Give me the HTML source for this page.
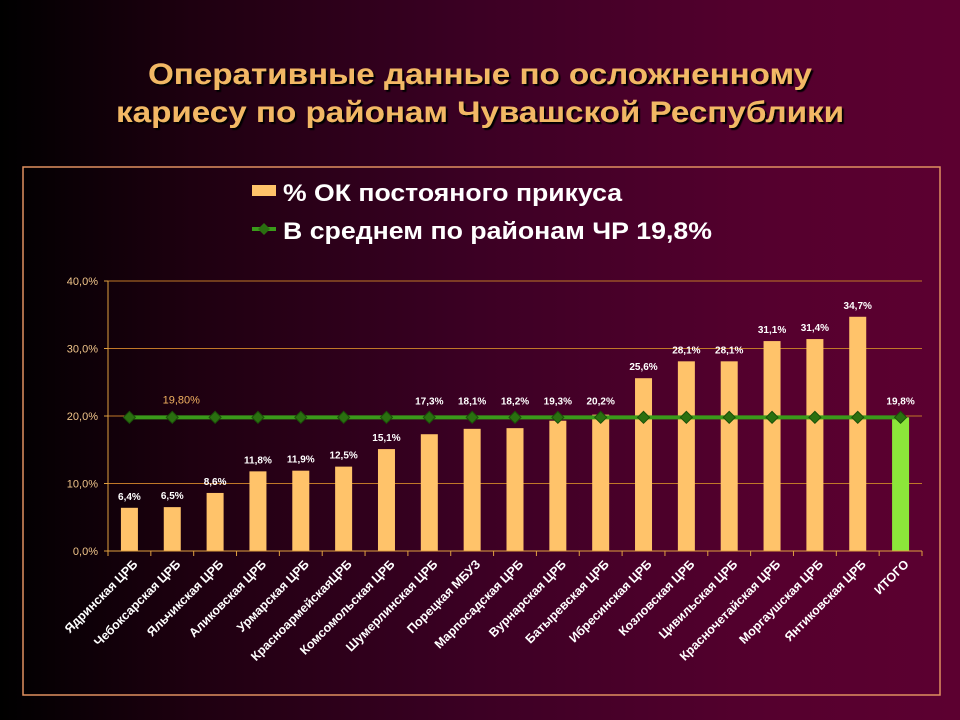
<!DOCTYPE html>
<html><head><meta charset="utf-8"><style>
body{margin:0;width:960px;height:720px;overflow:hidden;background:linear-gradient(90deg,#000 0%,#1e0010 20%,#3c0024 50%,#55002e 80%,#5c0030 100%);font-family:"Liberation Sans",sans-serif}
</style></head><body>
<svg width="960" height="720" style="position:absolute;left:0;top:0">
<defs><filter id="sh"><feDropShadow dx="2" dy="2" stdDeviation="0.5" flood-color="#000"/></filter></defs>
<g font-weight="bold" font-size="30" fill="#f2b865" filter="url(#sh)">
<text x="148" y="84" textLength="664" lengthAdjust="spacingAndGlyphs">Оперативные данные по осложненному</text>
<text x="116" y="122" textLength="728" lengthAdjust="spacingAndGlyphs">кариесу по районам Чувашской Республики</text></g>
<rect x="23" y="167" width="917" height="528" fill="none" stroke="#e09060" stroke-width="1.5"/>
<g font-weight="bold" font-size="24" fill="#fff">
<rect x="252" y="185" width="24" height="11" fill="#ffc36a"/>
<text x="283" y="201" textLength="339" lengthAdjust="spacingAndGlyphs">% ОК постояного прикуса</text>
<line x1="252" y1="229" x2="276" y2="229" stroke="#3a9a1a" stroke-width="4"/>
<path d="M264 223 L270 229 L264 235 L258 229Z" fill="#2a7010"/>
<text x="283" y="239" textLength="429" lengthAdjust="spacingAndGlyphs">В среднем по районам ЧР 19,8%</text></g>
<g id="plot"></g>
</svg>
<script>
const categories=["Ядринская ЦРБ","Чебоксарская  ЦРБ","Яльчикская ЦРБ","Аликовская ЦРБ","Урмарская ЦРБ","КрасноармейскаяЦРБ","Комсомольская ЦРБ","Шумерлинская ЦРБ","Порецкая МБУЗ","Марпосадская ЦРБ","Вурнарская ЦРБ","Батыревская ЦРБ","Ибресинская ЦРБ","Козловская ЦРБ","Цивильская ЦРБ","Красночетайская ЦРБ","Моргаушская ЦРБ","Янтиковская ЦРБ","ИТОГО"];
const values=[6.4,6.5,8.6,11.8,11.9,12.5,15.1,17.3,18.1,18.2,19.3,20.2,25.6,28.1,28.1,31.1,31.4,34.7,19.8];
const average=[19.8,19.8,19.8,19.8,19.8,19.8,19.8,19.8,19.8,19.8,19.8,19.8,19.8,19.8,19.8,19.8,19.8,19.8,19.8];
const yTicks=[0,10,20,30,40];
const NS="http://www.w3.org/2000/svg",g=document.getElementById("plot");
const X0=108,X1=922,Y0=551,Y1=281,YMAX=40;
const bw=(X1-X0)/categories.length;
const xc=i=>X0+bw*(i+0.5), y=v=>Y0-(v/YMAX)*(Y0-Y1);
function mk(t,a,txt){const e=document.createElementNS(NS,t);for(const k in a)e.setAttribute(k,a[k]);if(txt!=null)e.textContent=txt;g.appendChild(e);return e;}
const fmt=v=>v.toFixed(1).replace(".",",");
yTicks.forEach(t=>{
 const l=mk("line",{x1:X0,x2:X1,y1:y(t),y2:y(t),stroke:"#c07828","stroke-width":1});
 
 
 const tx=mk("text",{x:X0-10,y:y(t)+4,"text-anchor":"end","font-size":11,fill:"#f0c48a"},fmt(t)+"%");
 
 
 mk("line",{x1:X0-4,x2:X0,y1:y(t),y2:y(t),stroke:"#e0a040"});
});
const ax=mk("line",{x1:X0,x2:X0,y1:Y1,y2:Y0,stroke:"#e0a040"});


categories.forEach((c,i)=>{
 const last=i===categories.length-1;
 const r=mk("rect",{x:xc(i)-8.5,y:y(values[i]),width:17,height:Y0-y(values[i]),fill:last?"#8ce63a":"#ffc36a"});
 
 
 let ly=y(values[i])-8;
 if(Math.abs(ly-y(average[i]))<14) ly=Math.min(ly,y(average[i])-13);
 const vl=mk("text",{x:xc(i),y:ly,"text-anchor":"middle","font-size":10,"font-weight":"bold",fill:"#fff"},fmt(values[i])+"%");
 
 
 mk("line",{x1:X0+bw*i,x2:X0+bw*i,y1:Y0,y2:Y0+5,stroke:"#e0a040"});
 const xl=mk("text",{x:xc(i)+9,y:Y0+14,"text-anchor":"end","font-size":12.5,"font-weight":"bold",fill:"#fff",transform:`rotate(-45 ${xc(i)+9} ${Y0+14})`},c);
 
 
});
mk("line",{x1:X1,x2:X1,y1:Y0,y2:Y0+5,stroke:"#e0a040"});
const xa=mk("line",{x1:X0,x2:X1,y1:Y0,y2:Y0,stroke:"#e0a040"});


const pl=mk("polyline",{points:average.map((v,i)=>xc(i)+","+y(v)).join(" "),fill:"none",stroke:"#3a9a1a","stroke-width":4});


average.forEach((v,i)=>{
 const d=mk("path",{d:`M${xc(i)} ${y(v)-6} l6 6 l-6 6 l-6 -6z`,fill:"#2a7010",stroke:"#1a5008"});
 
 
});
const al=mk("text",{x:xc(1)+9,y:y(average[1])-14,"text-anchor":"middle","font-size":11,fill:"#f0b060"},fmt(average[1])+"0%");


</script>
</body></html>
